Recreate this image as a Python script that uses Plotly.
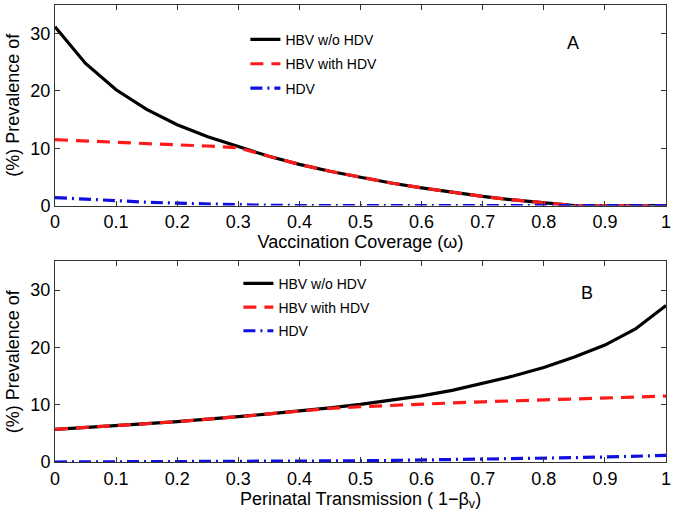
import plotly.graph_objects as go
from plotly.subplots import make_subplots

x_vals = [0, 0.05, 0.1, 0.15, 0.2, 0.25, 0.3, 0.35, 0.4, 0.45, 0.5,
          0.55, 0.6, 0.65, 0.7, 0.75, 0.8, 0.85, 0.9, 0.95, 1.0]

# Panel A: vaccination coverage
a_hbv_wo = [31.2, 24.8, 20.2, 16.8, 14.1, 12.0, 10.3, 8.6, 7.2, 6.0, 4.95,
            3.95, 3.1, 2.3, 1.6, 1.0, 0.45, 0.0, 0.0, 0.0, 0.0]
a_hbv_with = [11.5, 11.25, 11.0, 10.8, 10.6, 10.4, 10.1, 8.6, 7.2, 6.0, 4.95,
              3.95, 3.1, 2.3, 1.6, 1.0, 0.45, 0.0, 0.0, 0.0, 0.0]
a_hdv = [1.4, 1.1, 0.8, 0.6, 0.42, 0.25, 0.12, 0.05, 0.02, 0.0, 0.0,
         0.0, 0.0, 0.0, 0.0, 0.0, 0.0, 0.0, 0.0, 0.0, 0.0]

# Panel B: perinatal transmission
b_hbv_wo = [5.7, 6.0, 6.35, 6.7, 7.05, 7.45, 7.9, 8.4, 8.9, 9.45, 10.05,
            10.75, 11.55, 12.5, 13.7, 15.0, 16.5, 18.3, 20.4, 23.2, 27.3]
b_hbv_with = [5.7, 6.0, 6.35, 6.7, 7.05, 7.45, 7.9, 8.4, 8.9, 9.35, 9.65,
              9.9, 10.1, 10.3, 10.5, 10.65, 10.8, 10.95, 11.1, 11.3, 11.5]
b_hdv = [0.0, 0.01, 0.02, 0.03, 0.04, 0.05, 0.07, 0.09, 0.12, 0.16, 0.21,
         0.27, 0.33, 0.4, 0.48, 0.57, 0.66, 0.76, 0.87, 1.0, 1.15]

series_names = ["HBV w/o HDV", "HBV with HDV", "HDV"]
x_ticks = [0, 0.1, 0.2, 0.3, 0.4, 0.5, 0.6, 0.7, 0.8, 0.9, 1]
x_tick_text = ["0", "0.1", "0.2", "0.3", "0.4", "0.5", "0.6", "0.7", "0.8", "0.9", "1"]
y_ticks = [0, 10, 20, 30]

FONT = "Liberation Sans, Arial, Helvetica, sans-serif"

fig = make_subplots(rows=2, cols=1, vertical_spacing=0.122)

styles = [
    dict(color="black", width=3.2, dash="solid"),
    dict(color="#ff1a1a", width=3.2, dash="13px,8px"),
    dict(color="#1010e0", width=3.2, dash="12px,5px,2px,5px"),
]

for i, (name, ys) in enumerate(zip(series_names, [a_hbv_wo, a_hbv_with, a_hdv])):
    fig.add_trace(go.Scatter(x=x_vals, y=ys, mode="lines", name=name,
                             line=styles[i], legend="legend",
                             legendgroup="a%d" % i), row=1, col=1)
for i, (name, ys) in enumerate(zip(series_names, [b_hbv_wo, b_hbv_with, b_hdv])):
    fig.add_trace(go.Scatter(x=x_vals, y=ys, mode="lines", name=name,
                             line=styles[i], legend="legend2",
                             legendgroup="b%d" % i), row=2, col=1)

axis_common = dict(showline=True, linecolor="#333333", linewidth=1, mirror="ticks",
                   ticks="inside", ticklen=5, tickcolor="#333333", showgrid=False,
                   zeroline=False, ticklabeloverflow="allow",
                   tickfont=dict(size=18, color="black", family=FONT))

for r, title in [(1, "Vaccination Coverage (\u03c9)"),
                 (2, "Perinatal Transmission ( 1\u2212\u03b2<sub>v</sub>)")]:
    fig.update_xaxes(range=[0, 1], tickvals=x_ticks, ticktext=x_tick_text,
                     title=dict(text=title, font=dict(size=18, color="black", family=FONT),
                                standoff=4),
                     row=r, col=1, **axis_common)
    fig.update_yaxes(range=[0, 35], tickvals=y_ticks,
                     title=dict(text="(%) Prevalence of",
                                font=dict(size=18, color="black", family=FONT),
                                standoff=6),
                     row=r, col=1, **axis_common)

fig.update_yaxes(domain=[0.561, 1.0], row=1, col=1)
fig.update_yaxes(domain=[0.0, 0.439], row=2, col=1)

fig.add_annotation(x=0.847, y=28.4, xref="x", yref="y", text="A", showarrow=False,
                   font=dict(size=18, color="black", family=FONT))
fig.add_annotation(x=0.87, y=29.5, xref="x2", yref="y2", text="B", showarrow=False,
                   font=dict(size=18, color="black", family=FONT))

legend_common = dict(bgcolor="rgba(255,255,255,0)", borderwidth=0,
                     font=dict(size=14, color="black", family=FONT),
                     traceorder="grouped",
                     xanchor="left", yanchor="top", itemwidth=30)

fig.update_layout(
    width=675, height=518,
    margin=dict(l=55, r=7, t=4, b=56),
    paper_bgcolor="white", plot_bgcolor="white",
    font=dict(family=FONT, color="black"),
    legend=dict(x=(246 - 55) / 613, y=0.959, tracegroupgap=3.2, **legend_common),
    legend2=dict(x=(239 - 55) / 613, y=0.425, tracegroupgap=2.5, **legend_common),
    showlegend=True,
)

fig.write_html("out.html", config={"displayModeBar": False},
               post_script="document.body.style.margin='0';document.body.style.padding='0';")
